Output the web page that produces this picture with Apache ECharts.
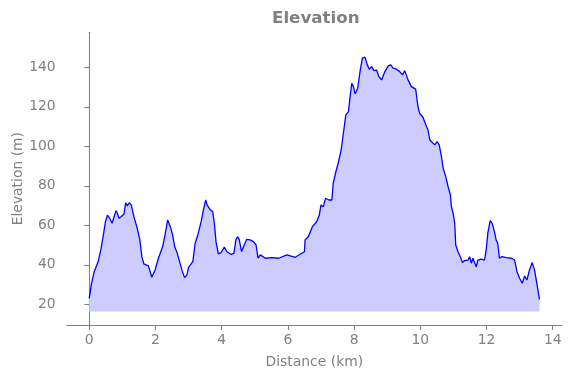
<!DOCTYPE html>
<html>
<head>
<meta charset="utf-8">
<script src="https://cdn.jsdelivr.net/npm/echarts@6/dist/echarts.min.js"></script>
<style>
  html, body { margin: 0; padding: 0; background: #fff; }
  #main { width: 571px; height: 378px; }
</style>
</head>
<body>
<div id="main"></div>
<script>
// distance (km) along the route
var distance = [
  0.00, 0.07, 0.15, 0.27, 0.35, 0.42, 0.49, 0.55, 0.62, 0.69, 0.75, 0.81, 0.85, 0.90, 0.97,
  1.05, 1.10, 1.15, 1.21, 1.27, 1.35, 1.45, 1.53, 1.59, 1.65, 1.72, 1.79, 1.89, 1.99,
  2.09, 2.22, 2.30, 2.37, 2.45, 2.52, 2.58, 2.66, 2.73, 2.80, 2.88, 2.95,
  3.00, 3.06, 3.13, 3.20, 3.28, 3.38, 3.46, 3.52, 3.56, 3.61, 3.66, 3.73, 3.78, 3.83, 3.90, 3.98,
  4.08, 4.16, 4.28, 4.37, 4.43, 4.48, 4.53, 4.60, 4.68, 4.76, 4.86, 4.96,
  5.04, 5.10, 5.17, 5.32, 5.52, 5.72, 5.97, 6.22, 6.42, 6.50, 6.52, 6.62, 6.74, 6.87, 6.95,
  7.00, 7.07, 7.14, 7.24, 7.33, 7.37, 7.45, 7.52, 7.61, 7.67, 7.75, 7.83, 7.88, 7.93, 7.98,
  8.03, 8.11, 8.18, 8.25, 8.33, 8.40, 8.46, 8.53, 8.60, 8.68, 8.75, 8.83, 8.93,
  9.03, 9.11, 9.18, 9.28, 9.38, 9.46, 9.53, 9.58, 9.63, 9.68, 9.73, 9.78, 9.86, 9.93, 9.98,
  10.08, 10.19, 10.23, 10.29, 10.37, 10.44, 10.51, 10.57, 10.64, 10.69, 10.77, 10.84, 10.91, 10.94, 10.99,
  11.04, 11.07, 11.14, 11.21, 11.27, 11.34, 11.44, 11.49, 11.54, 11.59, 11.64, 11.69, 11.74, 11.84, 11.94, 11.99,
  12.04, 12.11, 12.17, 12.24, 12.29, 12.34, 12.39, 12.47, 12.60, 12.75, 12.85, 12.92,
  13.00, 13.08, 13.15, 13.22, 13.30, 13.38, 13.45, 13.52, 13.60
];
// elevation (m)
var elevation = [
  23.0, 30.6, 36.5, 41.6, 47.5, 54.2, 61.8, 65.1, 63.5, 61.0, 61.5, 67.4, 66.1, 63.5, 64.4,
  65.7, 71.4, 69.8, 71.4, 70.3, 64.4, 58.5, 52.6, 44.1, 40.4, 39.9, 39.4, 33.7, 37.4,
  43.3, 49.2, 56.0, 62.7, 59.3, 55.1, 49.2, 45.8, 41.6, 37.4, 33.5, 34.8,
  38.7, 37.7, 41.6, 50.9, 55.1, 61.8, 68.6, 72.8, 70.3, 71.1, 67.7, 66.9, 61.0, 51.7, 45.5, 46.1,
  48.9, 46.6, 45.3, 45.8, 52.6, 54.2, 52.9, 46.6, 50.0, 52.9, 52.6, 51.7,
  50.0, 43.3, 45.0, 43.3, 43.6, 43.3, 45.0, 43.8, 45.8, 46.6, 52.6, 54.2, 59.3, 61.8, 65.2,
  70.3, 69.4, 73.7, 72.8, 72.8, 81.3, 87.1, 91.4, 98.1, 105.7, 115.8, 117.5, 125.1, 131.9, 130.2,
  126.5, 129.4, 137.8, 144.6, 145.1, 141.2, 139.0, 140.3, 138.3, 138.6, 135.2, 133.6, 137.8,
  140.7, 141.2, 139.5, 139.0, 137.8, 136.1, 138.3, 139.0, 133.6, 134.0, 130.2, 129.4, 128.9, 120.0, 116.7,
  114.7, 109.9, 108.3, 103.2, 101.8, 100.7, 102.3, 100.7, 94.7, 88.9, 84.6, 79.5, 75.3, 69.4, 66.1,
  61.0, 50.0, 46.6, 44.1, 41.1, 42.1, 42.4, 44.1, 40.8, 43.3, 42.8, 39.0, 42.4, 42.8, 42.4, 47.5,
  56.0, 62.3, 61.0, 56.8, 52.6, 50.9, 43.3, 44.1, 43.6, 43.3, 42.4, 36.5,
  33.2, 30.6, 34.3, 32.3, 37.4, 41.1, 37.4, 30.6, 22.5
];
var xTicks = [0, 2, 4, 6, 8, 10, 12, 14];
var yTicks = [20, 40, 60, 80, 100, 120, 140];
var fillBase = 16.3;

var points = distance.map(function (d, i) { return [d, elevation[i]]; });

var gray = '#808080';
var font = 'DejaVu Sans';

var chart = echarts.init(document.getElementById('main'), null, { renderer: 'canvas' });

var option = {
    backgroundColor: '#fff',
    animation: false,
    title: {
        text: 'Elevation',
        left: 272,
        top: 10,
        padding: 0,
        textStyle: { color: gray, fontFamily: font, fontWeight: 'bold', fontSize: 16.7 }
    },
    grid: { left: 66.7, right: 9, top: 32.3, bottom: 53, outerBoundsMode: 'none', containLabel: false },
    xAxis: {
        type: 'value',
        min: -0.68,
        max: 14.28,
        name: 'Distance (km)',
        nameLocation: 'middle',
        nameGap: 30,
        nameMoveOverlap: false,
        nameTextStyle: { color: gray, fontFamily: font, fontSize: 13.9 },
        axisLine: { show: true, lineStyle: { color: gray, width: 1.1 } },
        axisTick: { show: true, length: 4.9, lineStyle: { color: gray, width: 1.1 }, customValues: xTicks },
        axisLabel: { color: gray, fontFamily: font, fontSize: 13.9, margin: 8, customValues: xTicks },
        splitLine: { show: false }
    },
    yAxis: {
        type: 'value',
        min: 9.5,
        max: 157.7,
        name: 'Elevation (m)',
        nameLocation: 'middle',
        nameGap: 41,
        nameMoveOverlap: false,
        nameTextStyle: { color: gray, fontFamily: font, fontSize: 13.9 },
        axisLine: { show: true, lineStyle: { color: gray, width: 1.1 } },
        axisTick: { show: true, length: 4.9, lineStyle: { color: gray, width: 1.1 }, customValues: yTicks },
        axisLabel: { color: gray, fontFamily: font, fontSize: 13.9, margin: 11, customValues: yTicks },
        splitLine: { show: false }
    },
    series: [{
        type: 'line',
        data: points,
        showSymbol: false,
        lineStyle: { color: '#0000ff', width: 1.3 },
        areaStyle: { color: '#ccccff', opacity: 1, origin: fillBase }
    }]
};

chart.setOption(option);
</script>
</body>
</html>
